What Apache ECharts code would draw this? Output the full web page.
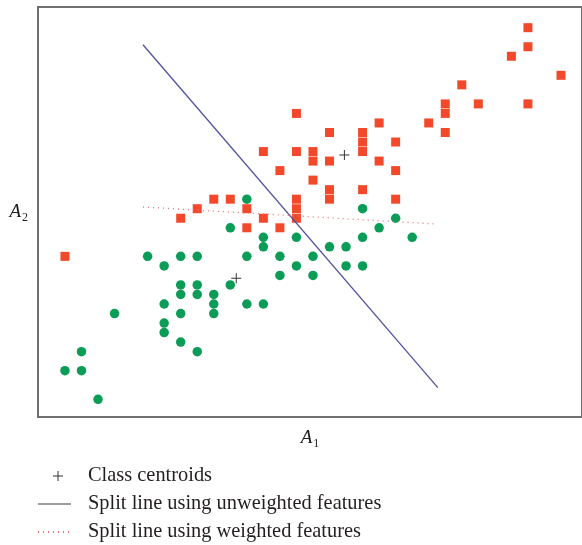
<!DOCTYPE html>
<html>
<head>
<meta charset="utf-8">
<script src="https://cdn.jsdelivr.net/npm/echarts@6/dist/echarts.min.js"></script>
<style>
html,body{margin:0;padding:0;background:#fff;}
#chart{width:582px;height:545px;}
</style>
</head>
<body>
<div id="chart"></div>
<script>
// Class 1 (red squares): A1, A2 values
var redA1 = [28,28,27,30,24,23,25,28,23,22,23,14,19,16,18,18,20,12,14,15,18,15,16,19,13,20,15,16,18,9,10,14,16,20,8,11,14,7,12,14,11,13,0];
var redA2 = [39,37,36,34,33,31,31,31,30,29,28,30,29,28,28,27,27,26,26,26,26,25,25,25,24,24,23,22,22,21,21,21,21,21,20,20,20,19,19,19,18,18,15];
// Class 2 (green circles): A1, A2 values
var greenA1 = [11,18,20,10,19,12,14,18,21,12,16,17,5,7,8,11,13,15,6,14,17,18,13,15,7,8,10,7,8,9,9,6,11,12,3,7,9,6,6,7,8,1,0,1,2];
var greenA2 = [21,20,19,18,18,17,17,17,17,16,16,16,15,15,15,15,15,15,14,14,14,14,13,13,12,12,12,11,11,11,10,10,10,10,9,9,9,8,7,6,5,5,3,3,0];
// Class centroids
var centroidA1 = [16.9,10.36];
var centroidA2 = [25.63,12.7];
// Split lines (end points)
var unweightedA1 = [4.72,22.55];
var unweightedA2 = [37.21,1.22];
var weightedA1 = [4.72,22.41];
var weightedA2 = [20.18,18.4];
// Legend labels
var legendNames = ['Class centroids','Split line using unweighted features','Split line using weighted features'];

function zip(a,b){ return a.map(function(v,i){ return [v,b[i]]; }); }

var serif = '"Liberation Serif","DejaVu Serif",serif';
var textColor = '#231f20';
var plusPath = 'path://M4.5,0H5.5V10H4.5ZM0,4.5H10V5.5H0Z';
var plusLegend = 'path://M0,0M33,14M19.5,2H20.5V12H19.5ZM15,6.5H25V7.5H15Z';

var chart = echarts.init(document.getElementById('chart'), null, {renderer:'canvas'});
chart.setOption({
  animation:false,
  backgroundColor:'#ffffff',
  grid:{left:38, top:7, right:-2, bottom:128, show:true, borderColor:'#707070', borderWidth:2, backgroundColor:'transparent'},
  xAxis:{
    type:'value', min:-1.63, max:31.27,
    axisLine:{show:false}, axisTick:{show:false}, axisLabel:{show:false}, splitLine:{show:false},
    name:'{a|A}{b|1}', nameLocation:'middle', nameGap:9,
    nameTextStyle:{rich:{
      a:{fontFamily:serif, fontStyle:'italic', fontSize:19, color:textColor, lineHeight:24},
      b:{fontFamily:serif, fontSize:12, color:textColor, lineHeight:12, verticalAlign:'bottom', padding:[0,0,0,1]}
    }}
  },
  yAxis:{
    type:'value', min:-1.86, max:41.17,
    axisLine:{show:false}, axisTick:{show:false}, axisLabel:{show:false}, splitLine:{show:false},
    name:'{a|A}{b|2}', nameLocation:'middle', nameRotate:0, nameGap:10,
    nameTextStyle:{rich:{
      a:{fontFamily:serif, fontStyle:'italic', fontSize:19, color:textColor, lineHeight:24},
      b:{fontFamily:serif, fontSize:12, color:textColor, lineHeight:12, verticalAlign:'bottom', padding:[0,0,0,1]}
    }}
  },
  legend:{
    orient:'vertical', left:37, top:466, padding:0, height:80,
    itemWidth:33, itemHeight:14, itemGap:8,
    textStyle:{fontFamily:serif, fontSize:20.4, color:textColor, lineHeight:20, padding:[0,0,0,12]},
    data:[
      {name:legendNames[0], icon:plusLegend, itemStyle:{color:'#333333'}},
      {name:legendNames[1], lineStyle:{color:'#3c3c3c', width:1.2}, itemStyle:{opacity:0}},
      {name:legendNames[2], itemStyle:{opacity:0}}
    ]
  },
  series:[
    {type:'scatter', name:'red', data:zip(redA1,redA2), symbol:'rect', symbolSize:9, itemStyle:{color:'#f3492a', opacity:1}, z:2},
    {type:'scatter', name:'green', data:zip(greenA1,greenA2), symbol:'circle', symbolSize:9.5, itemStyle:{color:'#0b9c58', opacity:1}, z:2},
    {type:'scatter', name:legendNames[0], data:zip(centroidA1,centroidA2), symbol:plusPath, symbolSize:10, symbolKeepAspect:true, itemStyle:{color:'#333333', opacity:1}, z:4},
    {type:'line', name:legendNames[1], data:zip(unweightedA1,unweightedA2), symbol:'none', lineStyle:{color:'#50509f', width:1.3}, itemStyle:{color:'#50509f'}, z:3},
    {type:'line', name:legendNames[2], data:zip(weightedA1,weightedA2), symbol:'none', lineStyle:{color:'#e8707a', width:1.3, type:[1,4]}, itemStyle:{color:'#e8707a'}, z:3}
  ]
});
</script>
</body>
</html>
